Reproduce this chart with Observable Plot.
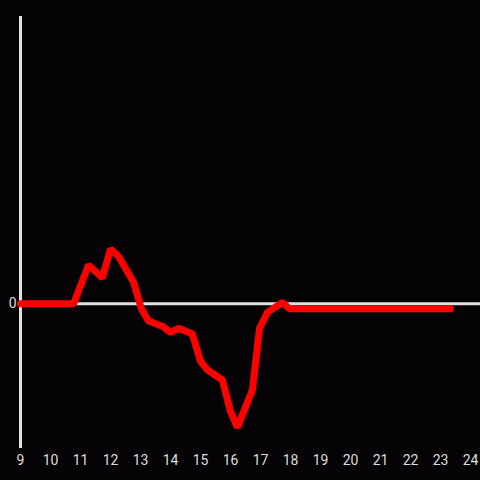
<!DOCTYPE html>
<html><head><meta charset="utf-8">
<script src="https://cdn.jsdelivr.net/npm/d3@7"></script>
<script src="https://cdn.jsdelivr.net/npm/@observablehq/plot@0.6"></script>
<style>
html,body{margin:0;padding:0;background:#050306;}
</style>
</head><body>
<div id="chart"></div>
<script>
const hours = [9, 10.77, 11.27, 11.73, 12.0, 12.27, 12.77, 13.03, 13.27, 13.77, 14.0, 14.27, 14.73, 15.0, 15.23, 15.73, 16.0, 16.23, 16.73, 16.97, 17.23, 17.73, 17.97, 23.33];
const values = [0, 0, 0.27, 0.18, 0.38, 0.33, 0.15, -0.035, -0.12, -0.16, -0.2, -0.17, -0.21, -0.4, -0.46, -0.53, -0.75, -0.86, -0.6, -0.17, -0.06, 0.01, -0.035, -0.035];
const xTicks = [9,10,11,12,13,14,15,16,17,18,19,20,21,22,23,24];
const yTicks = [0];

const data = hours.map((h, i) => ({h, v: values[i]}));

const chart = Plot.plot({
  width: 480,
  height: 480,
  marginTop: 16,
  marginBottom: 32,
  marginLeft: 20,
  marginRight: 0,
  style: {background: "#050306", color: "#dddddd", fontFamily: "Roboto, sans-serif", fontSize: "14px"},
  x: {domain: [9, 24.333], ticks: xTicks, tickSize: 0, tickPadding: 7, label: null, tickFormat: d => String(d)},
  y: {domain: [-1.007, 2], ticks: yTicks, tickSize: 0, tickPadding: 4, label: null, tickFormat: d => String(d)},
  marks: [
    Plot.ruleX([9], {stroke: "#e0e0e0", strokeWidth: 3}),
    Plot.ruleY([0], {stroke: "#e0e0e0", strokeWidth: 3}),
    Plot.line(data, {x: "h", y: "v", stroke: "#ff0000", strokeWidth: 7, strokeLinejoin: "miter"})
  ]
});
document.getElementById("chart").appendChild(chart);
</script>
</body></html>
